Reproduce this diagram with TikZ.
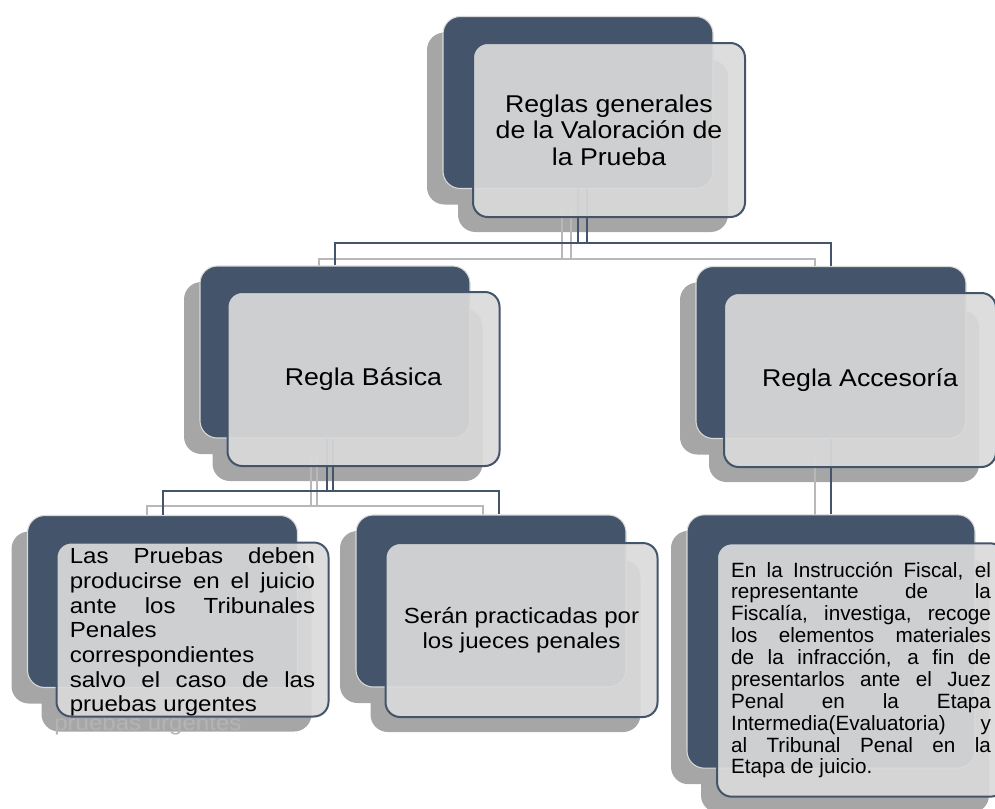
\documentclass[tikz,border=0pt]{standalone}
\usepackage{fontspec}
\setmainfont{Liberation Sans}[FakeStretch=1.1]
\newfontfamily\plainsans{Liberation Sans}
\usepackage{tikz}
\definecolor{navyclr}{HTML}{44546A}
\definecolor{boxclr}{HTML}{DADADA}
\definecolor{rimclr}{HTML}{D9D9D9}
\definecolor{shdwclr}{HTML}{A6A6A6}
\definecolor{lnkshdwclr}{HTML}{B8B8B8}
\definecolor{ghostclr}{HTML}{B4B4B4}
\tikzset{ %
  ,darkbox/.style={draw=rimclr, line width=0.8pt, fill=navyclr, rounded corners=13pt, minimum width=202.5pt, minimum height=129pt, inner sep=0}
  ,litebox/.style={draw=navyclr, line width=1.5pt, fill=boxclr, fill opacity=0.92, rounded corners=11pt, minimum width=204pt, minimum height=130.5pt, inner sep=0}
  ,shdw/.style={fill=shdwclr, rounded corners=13pt, minimum width=202.5pt, minimum height=129pt, inner sep=0}
  ,big/.style={minimum width=216pt, minimum height=190pt}
  ,lnk/.style={draw=navyclr, line width=1.5pt}
  ,lnkshdw/.style={draw=lnkshdwclr, line width=1.5pt}
  ,txt/.style={inner sep=0, text=black}
  ,lvlone/.style={font=\fontsize{18.2}{20}\selectfont}
  ,lvltwo/.style={font=\fontsize{16.4}{18.5}\selectfont\lineskiplimit-10pt\relax}
  ,lvlthree/.style={font=\plainsans\fontsize{15.5}{16.4}\selectfont\lineskiplimit-10pt\relax}
}

\begin{document}
\begin{tikzpicture}[x=0.75pt, y=-0.75pt]
  \useasboundingbox (0,0) rectangle (995,808);
  \clip (0,0) rectangle (995,808);
  % shadows
  \node[shdw] (gralSD) at (562,118.5) {};
  \node[shdw] (gralSL) at (593,146) {};
  \node[shdw] (basicaSD) at (319,368) {};
  \node[shdw] (basicaSL) at (347.5,395) {};
  \node[shdw] (acceSD) at (815,368.5) {};
  \node[shdw] (acceSL) at (844,396) {};
  \node[shdw] (juicioSD) at (146.5,617.5) {};
  \node[shdw] (juicioSL) at (176.5,645.5) {};
  \node[shdw] (juecesSD) at (475,617) {};
  \node[shdw] (juecesSL) at (505.5,646) {};
  \node[shdw, big] (fiscalSD) at (815,657.5) {};
  \node[shdw, big] (fiscalSL) at (845,686) {};
  \node[txt, lvltwo, text=ghostclr, anchor=base west] (juicioG) at (54,730) {pruebas urgentes};
  \draw[lnkshdw] ([xshift=6.75pt]gralSD.south) -- ++(0,54) -| (basicaSD.north);
  \draw[lnkshdw] (gralSD.south) -- ++(0,54) -| (acceSD.north);
  \draw[lnkshdw] ([xshift=-1.5pt]basicaSD.south) -- ++(0,52) -| (juicioSD.north);
  \draw[lnkshdw] ([xshift=-6pt]basicaSD.south) -- ++(0,52) -| ([xshift=6pt]juecesSD.north);
  \draw[lnkshdw] (acceSD.south) -- (fiscalSD.north);
  % dark boxes
  \node[darkbox] (gralD) at (578,102.5) {};
  \node[darkbox] (basicaD) at (335,352) {};
  \node[darkbox] (acceD) at (831,352.5) {};
  \node[darkbox] (juicioD) at (162.5,601.5) {};
  \node[darkbox] (juecesD) at (491,601) {};
  \node[darkbox, big] (fiscalD) at (831,641.5) {};
  \draw[lnk] ([xshift=6.75pt]gralD.south) -- ++(0,54) -| (basicaD.north);
  \draw[lnk] (gralD.south) -- ++(0,54) -| (acceD.north);
  \draw[lnk] ([xshift=-1.5pt]basicaD.south) -- ++(0,52) -| (juicioD.north);
  \draw[lnk] ([xshift=-6pt]basicaD.south) -- ++(0,52) -| ([xshift=6pt]juecesD.north);
  \draw[lnk] (acceD.south) -- (fiscalD.north);
  % light boxes
  \node[litebox] (gralL) at (609,130) {};
  \node[litebox] (basicaL) at (363.5,379) {};
  \node[litebox] (acceL) at (860,380) {};
  \node[litebox] (juicioL) at (192.5,629.5) {};
  \node[litebox] (juecesL) at (521.5,630) {};
  \node[litebox, big] (fiscalL) at (861,670) {};
  % texts
  \node[txt, lvlone, align=center] (gralT) at (gralL) {Reglas generales\\de la Valoración de\\la Prueba};
  \node[txt, lvlone] (basicaT) at (basicaL) {Regla Básica};
  \node[txt, lvlone] (acceT) at (acceL) {Regla Accesoría};
  \node[txt, lvltwo, text width=184pt, align=justify] (juicioT) at ([yshift=-2pt]juicioL.center) {Las Pruebas deben\linebreak producirse en el juicio\linebreak ante los Tribunales\linebreak Penales\\correspondientes\\salvo el caso de las\linebreak pruebas urgentes};
  \node[txt, lvltwo, align=center] (juecesT) at (juecesL) {Serán practicadas por\\los jueces penales};
  \node[txt, lvlthree, text width=195pt, align=justify] (fiscalT) at (fiscalL) {En la Instrucción Fiscal, el\linebreak representante de la\linebreak Fiscalía, investiga, recoge\linebreak los elementos materiales\linebreak de la infracción, a fin de\linebreak presentarlos ante el Juez\linebreak Penal en la Etapa\linebreak Intermedia(Evaluatoria) y\linebreak al Tribunal Penal en la\linebreak Etapa de juicio.};
\end{tikzpicture}
\end{document}
